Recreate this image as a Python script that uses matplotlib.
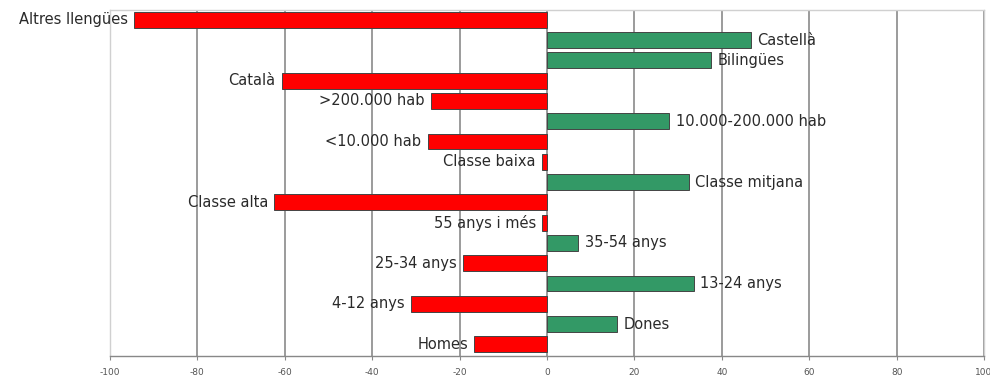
import matplotlib.pyplot as plt

# categories, top to bottom
categories = ['Altres llengües', 'Castellà', 'Bilingües', 'Català',
              '>200.000 hab', '10.000-200.000 hab', '<10.000 hab',
              'Classe baixa', 'Classe mitjana', 'Classe alta',
              '55 anys i més', '35-54 anys', '25-34 anys', '13-24 anys',
              '4-12 anys', 'Dones', 'Homes']
values = [-94.4, 46.6, 37.5, -60.7,
          -26.5, 28.0, -27.3,
          -1.1, 32.5, -62.4,
          -1.1, 7.2, -19.3, 33.6,
          -31.2, 16.1, -16.6]
ticks = [-100, -80, -60, -40, -20, 0, 20, 40, 60, 80, 100]

RED = '#ff0000'
GREEN = '#339966'


def make_chart():
    fig = plt.figure(figsize=(9.9, 3.81), dpi=100)
    ax = fig.add_axes([0.111, 0.066, 0.883, 0.908])

    ypos = list(range(len(categories)))
    colors = [RED if v < 0 else GREEN for v in values]
    ax.barh(ypos, values, height=0.78, color=colors,
            edgecolor='#444444', linewidth=0.7, zorder=3)

    # labels at the end of each bar
    for y, v, name in zip(ypos, values, categories):
        if v < 0:
            ax.annotate(name, (v, y), xytext=(-4.5, 0), textcoords='offset points',
                        ha='right', va='center', fontsize=10.5, color='#2a2a2a')
        else:
            ax.annotate(name, (v, y), xytext=(4.5, 0), textcoords='offset points',
                        ha='left', va='center', fontsize=10.5, color='#2a2a2a')

    ax.set_xlim(-100, 100)
    ax.set_ylim(len(categories) - 0.43, -0.49)
    ax.set_xticks(ticks)
    ax.set_xticklabels([str(t) for t in ticks], fontsize=6.5, color='#555555')
    ax.set_yticks([])
    ax.tick_params(axis='x', direction='out', length=3, color='#888888', pad=6)

    ax.grid(axis='x', color='#8a8a8a', linewidth=1.2, zorder=0)
    for side in ['top', 'right', 'left']:
        ax.spines[side].set_color('#d0d0d0')
        ax.spines[side].set_linewidth(1.0)
    ax.spines['bottom'].set_color('#888888')
    ax.spines['bottom'].set_linewidth(1.0)

    fig.savefig('out.png', dpi=100)


if __name__ == "__main__":
    make_chart()
